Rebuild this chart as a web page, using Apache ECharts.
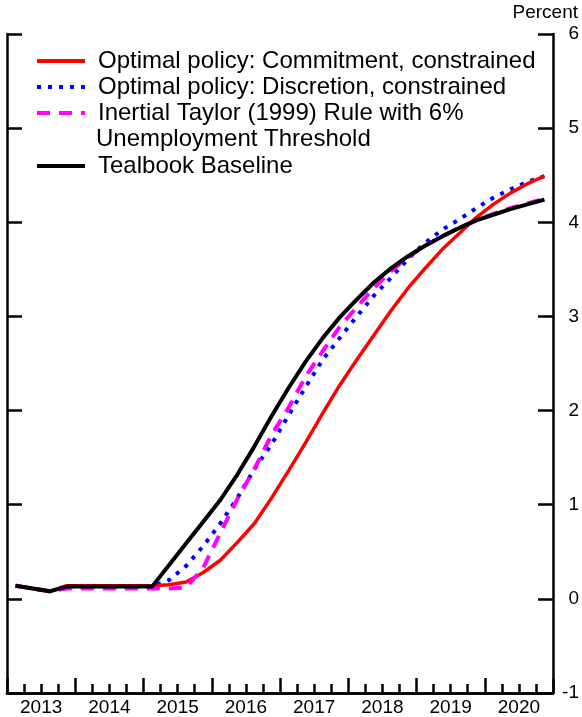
<!DOCTYPE html>
<html>
<head>
<meta charset="utf-8">
<script src="https://cdn.jsdelivr.net/npm/echarts@6/dist/echarts.min.js"></script>
<style>
  html, body { margin: 0; padding: 0; background: #fff; }
  #chart { width: 582px; height: 717px; }
</style>
</head>
<body>
<div id="chart"></div>
<script>
// quarterly path, 2013Q1 - 2020Q4, percent
const years = ["2013", "2014", "2015", "2016", "2017", "2018", "2019", "2020"];
const quarters = years.flatMap((y) => ["Q1", "Q2", "Q3", "Q4"].map((q) => y + q));

const commitment = [0.14, 0.11, 0.08, 0.14, 0.14, 0.14, 0.14, 0.14,
  0.14, 0.15, 0.18, 0.28, 0.41, 0.60, 0.80, 1.07,
  1.36, 1.66, 1.97, 2.27, 2.54, 2.80, 3.06, 3.30,
  3.51, 3.71, 3.88, 4.05, 4.19, 4.31, 4.41, 4.49];
const discretion = [0.14, 0.11, 0.08, 0.13, 0.13, 0.13, 0.13, 0.13,
  0.13, 0.20, 0.35, 0.56, 0.80, 1.07, 1.38, 1.64,
  1.95, 2.25, 2.54, 2.77, 3.00, 3.22, 3.41, 3.61,
  3.78, 3.92, 4.03, 4.15, 4.26, 4.35, 4.43, 4.49];
const taylor = [0.14, 0.11, 0.08, 0.11, 0.11, 0.11, 0.11, 0.11,
  0.11, 0.11, 0.12, 0.33, 0.70, 1.06, 1.38, 1.74,
  2.03, 2.36, 2.63, 2.89, 3.10, 3.30, 3.48, 3.63,
  3.75, 3.85, 3.94, 4.02, 4.09, 4.15, 4.20, 4.25];
const baseline = [0.14, 0.11, 0.08, 0.13, 0.13, 0.13, 0.13, 0.13,
  0.13, 0.36, 0.59, 0.82, 1.05, 1.32, 1.62, 1.94,
  2.24, 2.52, 2.77, 2.99, 3.18, 3.36, 3.51, 3.64,
  3.75, 3.85, 3.94, 4.02, 4.08, 4.14, 4.19, 4.24];

const yMin = -1;
const yMax = 6;

const NAME_C = "Optimal policy: Commitment, constrained";
const NAME_D = "Optimal policy: Discretion, constrained";
const NAME_T = "Inertial Taylor (1999) Rule with 6%";
const NAME_B = "Tealbook Baseline";

const FONT = "'Liberation Sans', Arial, sans-serif";

const chart = echarts.init(document.getElementById("chart"));

const legendBase = {
  orient: "vertical",
  left: 35,
  padding: 0,
  itemGap: 0,
  itemWidth: 48,
  itemHeight: 14,
  selectedMode: false,
  itemStyle: { opacity: 0 },
  lineStyle: { width: 4 },
  textStyle: { fontFamily: FONT, fontSize: 24, color: "#000", lineHeight: 26, padding: [0, 0, 0, 8] },
};

const yAxisBase = {
  type: "value",
  min: yMin,
  max: yMax,
  interval: 1,
  splitLine: { show: false },
  axisLine: { show: true, lineStyle: { color: "#000", width: 2.5 } },
  axisTick: { show: true, inside: true, length: 15, lineStyle: { color: "#000", width: 2.5 } },
};

const xAxisLine = { show: true, onZero: false, lineStyle: { color: "#000", width: 2.5 } };

chart.setOption({
  animation: false,
  grid: { left: 7, right: 29, top: 34, bottom: 24 },
  legend: [
    { ...legendBase, data: [NAME_C, NAME_D, NAME_T], top: 48 },
    { ...legendBase, data: [NAME_B], top: 153 },
  ],
  graphic: [
    {
      type: "text",
      x: 96,
      y: 139,
      style: { text: "Unemployment Threshold", font: "24px " + FONT, fill: "#000", verticalAlign: "middle" },
    },
    {
      type: "text",
      x: 578,
      y: 13,
      style: { text: "Percent", font: "19px " + FONT, fill: "#000", align: "right", verticalAlign: "middle" },
    },
  ],
  xAxis: [
    {
      type: "category",
      data: quarters,
      boundaryGap: true,
      position: "bottom",
      axisLine: xAxisLine,
      axisTick: { show: true, inside: true, interval: 0, length: 9, lineStyle: { color: "#000", width: 2.5 } },
      axisLabel: { show: false },
      splitLine: { show: false },
    },
    {
      type: "category",
      data: years,
      boundaryGap: true,
      position: "bottom",
      axisLine: xAxisLine,
      axisTick: { show: true, inside: true, interval: 0, length: 15, lineStyle: { color: "#000", width: 2.5 } },
      axisLabel: { show: true, interval: 0, margin: 5, fontFamily: FONT, fontSize: 19, color: "#000" },
      splitLine: { show: false },
    },
  ],
  yAxis: [
    {
      ...yAxisBase,
      position: "right",
      axisLabel: { show: true, margin: 26, align: "right", fontFamily: FONT, fontSize: 19, color: "#000" },
    },
    {
      ...yAxisBase,
      position: "left",
      axisLabel: { show: false },
    },
  ],
  series: [
    {
      name: NAME_D,
      type: "line",
      data: discretion,
      symbol: "none",
      lineStyle: { color: "#0000ff", width: 4, type: [4, 7], cap: "butt" },
      itemStyle: { color: "#0000ff" },
    },
    {
      name: NAME_C,
      type: "line",
      data: commitment,
      symbol: "none",
      lineStyle: { color: "#ff0000", width: 3.5 },
      itemStyle: { color: "#ff0000" },
    },
    {
      name: NAME_T,
      type: "line",
      data: taylor,
      symbol: "none",
      lineStyle: { color: "#ff00ff", width: 4, type: [13, 9], cap: "butt" },
      itemStyle: { color: "#ff00ff" },
    },
    {
      name: NAME_B,
      type: "line",
      data: baseline,
      symbol: "none",
      lineStyle: { color: "#000", width: 4 },
      itemStyle: { color: "#000" },
    },
  ],
});
</script>
</body>
</html>
